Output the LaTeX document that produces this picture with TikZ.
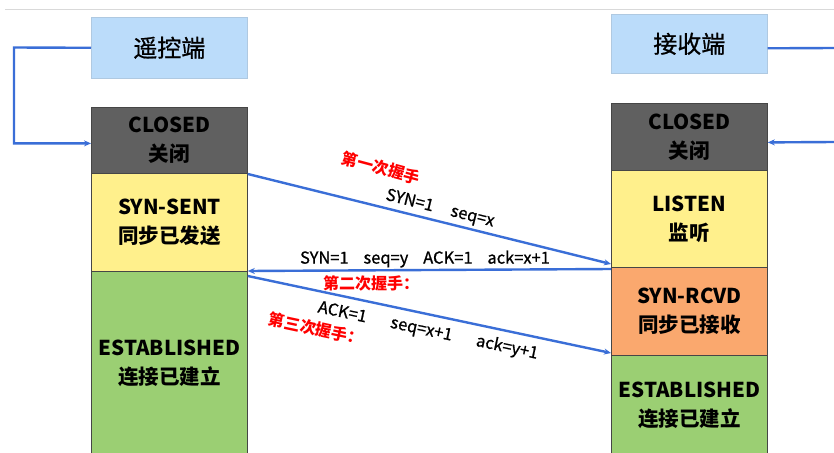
\documentclass[tikz,border=0pt]{standalone}
\usepackage{fontspec}
\setmainfont{Noto Sans CJK SC}
\newfontfamily\medfont[FakeBold=0.8]{Noto Sans CJK SC}
\usetikzlibrary{calc,arrows.meta}
\definecolor{hdrblue}{RGB}{187,220,250}
\definecolor{closedgray}{RGB}{96,96,96}
\definecolor{synyellow}{RGB}{255,240,140}
\definecolor{estgreen}{RGB}{155,207,115}
\definecolor{rcvdorange}{RGB}{250,168,110}
\definecolor{linkblue}{RGB}{58,110,215}
\definecolor{boxedge}{RGB}{70,70,70}
\tikzset{
  hdr/.style={draw=hdrblue!80!gray, fill=hdrblue, line width=0.6pt, anchor=north west,
    minimum width=156pt, inner sep=0pt, font=\medfont\fontsize{24}{29}\selectfont},
  statebox/.style={draw=boxedge, line width=0.8pt, anchor=north west, minimum width=156pt,
    inner sep=0pt, align=center, font=\bfseries\fontsize{20.5}{29}\selectfont},
  conn/.style={draw=linkblue, line width=2.4pt, -{Stealth[length=7pt,width=6pt]}},
  plainline/.style={draw=linkblue, line width=2.4pt},
  msg/.style={font=\medfont\fontsize{16.5}{18}\selectfont, inner sep=0pt},
  redlbl/.style={font=\bfseries\fontsize{16}{18}\selectfont, text=red, inner sep=0pt}
}
\begin{document}
\begin{tikzpicture}[x=1pt,y=-1pt]
\useasboundingbox (0,0) rectangle (834,452);
\fill[white] (0,0) rectangle (834,452);
\draw[line width=1pt, black!15] (5,10) -- (834,10);
% headers
\node[hdr, minimum height=61pt] (lbox) at (91,17) {遥控端};
\node[hdr, minimum height=59pt] (rbox) at (611,14) {接收端};
% left column
\node[statebox, fill=closedgray, minimum height=66pt] (lclosed) at (91,107) {CLOSED\\关闭};
\node[statebox, fill=synyellow, minimum height=98pt] (lsent) at (91,173) {SYN-SENT\\同步已发送};
\node[statebox, fill=estgreen, minimum height=184pt] (lest) at (91,271) {ESTABLISHED\\连接已建立};
% right column
\node[statebox, fill=closedgray, minimum height=67pt] (rclosed) at (611,103) {CLOSED\\关闭};
\node[statebox, fill=synyellow, minimum height=97pt] (rlisten) at (611,170) {LISTEN\\监听};
\node[statebox, fill=rcvdorange, minimum height=88pt] (rrcvd) at (611,267) {SYN-RCVD\\同步已接收};
\node[statebox, fill=estgreen, minimum height=100pt] (rest) at (611,355) {ESTABLISHED\\连接已建立};
% side connectors
\coordinate (lcorner) at (14,47.5);
\draw[conn] (lbox.west) -- (lcorner) |- ($(lclosed.west)+(0,3)$);
\coordinate (rout) at (834,48);
\draw[plainline] ($(rbox.east)+(0,4.5)$) -- (rout);
\coordinate (rin) at (834,142);
\draw[conn] (rin) -- ($(rclosed.east)+(0,5.5)$);
% handshake arrows
\draw[conn] ($(lsent.north east)+(0,1)$) -- ($(rrcvd.north west)+(0,-3)$);
\draw[conn] ($(rrcvd.north west)+(0,2)$) -- ($(lest.north east)+(0,0)$);
\draw[conn] ($(lest.north east)+(0,5)$) -- ($(rest.north west)+(0,-2)$);
% labels
\node[redlbl, rotate=-15] (l1) at (381,168) {第一次握手};
\node[msg, rotate=-14] (m1) at (440,209) {SYN=1\hspace{1.1em}seq=x};
\node[msg] (m2) at (425,259) {SYN=1\hspace{0.9em}seq=y\hspace{0.9em}ACK=1\hspace{0.9em}ack=x+1};
\node[redlbl] (l2) at (371,283) {第二次握手：};
\node[msg, rotate=-12] (m3) at (428,331) {ACK=1\hspace{1.5em}seq=x+1\hspace{1.5em}ack=y+1};
\node[redlbl, rotate=-12] (l3) at (316,329) {第三次握手：};
\end{tikzpicture}
\end{document}
